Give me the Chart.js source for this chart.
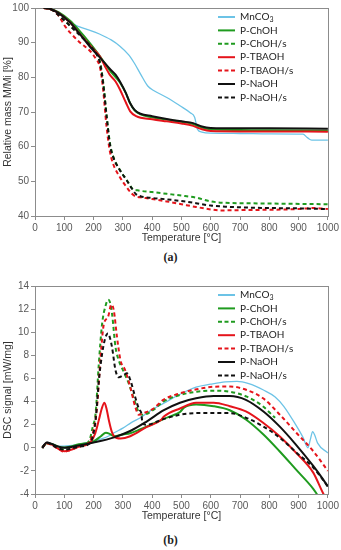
<!DOCTYPE html>
<html>
<head>
<meta charset="utf-8">
<script src="https://cdn.jsdelivr.net/npm/chart.js@4.4.1/dist/chart.umd.min.js"></script>
<style>
  html, body { margin: 0; padding: 0; background: #fff; }
  .panel { position: absolute; left: 0; width: 341px; }
  #boxA { top: 0; height: 250px; }
  #boxB { top: 275px; height: 253px; }
  .cap { position: absolute; left: 0; width: 341px; text-align: center; font: bold 12px "Liberation Serif", serif; color: #222; line-height: 14px; }
</style>
</head>
<body>
<div class="panel" id="boxA"><canvas id="tga"></canvas></div>
<div class="cap" style="top:250px">(a)</div>
<div class="panel" id="boxB"><canvas id="dsc"></canvas></div>
<div class="cap" style="top:533px">(b)</div>
<script>
// series names (same for both panels)
const seriesNames = ['MnCO₃', 'P-ChOH', 'P-ChOH/s', 'P-TBAOH', 'P-TBAOH/s', 'P-NaOH', 'P-NaOH/s'];
const tempTicks = [0, 100, 200, 300, 400, 500, 600, 700, 800, 900, 1000];

// (a) TGA, relative mass [%] vs temperature [°C]
const tgaMnCO3 = [[30,100],[60,99.7],[90,97.8],[120,95.8],[150,94.6],[190,93.5],[220,92.5],[260,90.8],[290,89],[320,86.5],[340,84],[360,81],[385,77.5],[405,76.2],[450,74.2],[495,71.8],[530,69.8],[545,68.5],[555,65],[570,64.2],[600,63.9],[700,63.8],[800,63.7],[915,63.6],[930,62.6],[945,61.9],[1000,61.9]];
const tgaChOH = [[30,100],[50,99.8],[80,98.8],[120,96.3],[150,93.6],[190,89.6],[220,86.3],[255,82],[290,78.5],[310,75.5],[325,72.5],[340,70.5],[360,69.3],[400,68.5],[450,67.8],[500,67.2],[540,66.5],[570,65.5],[600,65],[700,64.8],[800,64.7],[1000,64.6]];
const tgaChOHs = [[30,100],[50,99.8],[80,98],[120,94.9],[155,92.2],[190,89.2],[210,87],[222,84.5],[233,78.5],[245,68.5],[256,61],[267,57.2],[290,53.3],[313,50.4],[334,47.8],[350,47.4],[400,46.9],[450,46.4],[500,45.9],[550,45.3],[600,44.2],[650,43.8],[700,43.7],[800,43.6],[1000,43.4]];
const tgaTBAOH = [[30,100],[50,99.8],[80,98.6],[120,95.8],[150,92.8],[190,89],[222,86],[240,83],[255,80.8],[275,78.8],[290,76.5],[310,72.8],[325,70.2],[345,68.8],[400,67.9],[450,67.3],[500,66.7],[540,66],[570,65],[600,64.5],[700,64.4],[800,64.4],[1000,64.3]];
const tgaTBAOHs = [[30,100],[50,99.7],[70,98.8],[85,97.2],[102,94.8],[120,92.9],[154,90],[188,87.6],[205,85.7],[222,82.8],[232,77],[244,66],[256,58.5],[267,55],[290,51.2],[313,48.3],[330,46.5],[345,45.6],[360,45.4],[400,44.9],[450,44.2],[500,43.4],[550,42.6],[600,41.9],[630,41.6],[700,41.7],[800,41.8],[900,42],[950,42.3],[1000,42]];
const tgaNaOH = [[30,100],[50,99.8],[80,98.6],[120,95.8],[150,92.8],[190,88.6],[222,85.7],[256,82.4],[275,80.8],[290,78.8],[310,75.5],[325,72.5],[340,70.6],[360,69.5],[400,68.8],[450,68],[500,67.3],[540,66.8],[570,65.8],[600,65.4],[700,65.3],[800,65.3],[1000,65.2]];
const tgaNaOHs = [[30,100],[50,99.8],[80,98],[120,94.8],[155,92],[190,89],[210,86.7],[222,84],[233,78],[245,68.4],[256,60.5],[267,57],[290,53.2],[313,50.3],[330,48],[345,46.3],[360,45.7],[400,45.2],[450,44.8],[500,44.3],[550,43.7],[600,43],[650,42.7],[700,42.5],[800,42.3],[900,42.2],[1000,42]];

// (b) DSC signal [mW/mg] vs temperature [°C]
const dscMnCO3 = [[25,0],[40,0.45],[60,0.3],[80,0.15],[100,0.14],[150,0.3],[200,0.57],[250,1.0],[270,1.3],[300,1.7],[330,2.2],[360,2.6],[400,3.3],[440,3.86],[500,4.7],[550,5.25],[600,5.5],[650,5.7],[690,5.75],[730,5.55],[780,5.0],[820,4.4],[850,3.57],[890,2.0],[915,0.9],[932,0],[940,0.7],[948,1.4],[955,1.1],[965,0.4],[1000,-0.45]];
const dscChOH = [[25,0],[40,0.4],[60,0.3],[80,0.1],[100,0.02],[150,0.3],[200,0.55],[225,1.0],[242,1.3],[255,1.2],[270,1.0],[300,1.15],[325,1.25],[360,1.6],[405,2.1],[440,2.5],[480,2.9],[495,3.1],[510,3.5],[550,3.75],[610,3.6],[665,3.25],[720,2.45],[780,1.15],[835,-0.3],[890,-1.85],[950,-3.55],[965,-4.1],[1000,-5.3]];
const dscChOHs = [[25,0],[40,0.4],[60,0.25],[80,0],[100,-0.2],[150,0.1],[185,0.6],[197,1.8],[207,3.0],[218,7.3],[229,10.7],[241,12.3],[250,12.8],[256,12.6],[263,11.6],[275,8.7],[286,7.57],[303,6.57],[320,5.57],[337,4.29],[354,3.1],[368,2.85],[405,3.3],[438,4.0],[495,4.57],[552,4.85],[609,4.94],[666,4.85],[723,4.42],[779,3.57],[813,2.75],[820,2.6]];
const dscTBAOH = [[25,0],[40,0.42],[60,0.25],[80,-0.1],[100,-0.3],[120,-0.2],[150,0.1],[190,0.5],[205,1.2],[218,2.4],[228,3.4],[237,3.9],[245,3.3],[252,2.4],[262,1.4],[270,1.0],[292,0.8],[325,1.0],[382,1.8],[430,2.4],[440,2.7],[495,3.4],[550,3.9],[610,3.9],[665,3.6],[720,3.15],[780,2.15],[835,1.0],[890,-0.4],[950,-2.15],[985,-4.0],[1000,-4.6]];
const dscTBAOHs = [[25,0],[40,0.4],[60,0.2],[80,-0.1],[100,-0.35],[120,-0.2],[150,0.1],[185,0.5],[200,1.5],[212,3.57],[224,7.86],[235,10.7],[249,11.3],[261,12.4],[269,11.9],[280,9.57],[292,7.57],[308,6.71],[325,5.29],[342,3.57],[354,2.86],[371,3.0],[405,3.4],[438,4.14],[495,4.71],[552,5.06],[609,5.28],[666,5.3],[723,5.0],[779,4.28],[836,2.86],[893,1.28],[950,-0.29],[1000,-2.0]];
const dscNaOH = [[25,0],[40,0.45],[60,0.3],[80,0.1],[100,0],[150,0.2],[200,0.45],[270,0.9],[325,1.45],[380,2.25],[440,3.25],[495,3.9],[550,4.28],[610,4.48],[665,4.48],[720,4.15],[780,3.14],[835,1.85],[890,0.3],[950,-1.57],[980,-2.6],[1000,-3.35]];
const dscNaOHs = [[25,0],[40,0.45],[60,0.2],[80,-0.05],[100,-0.15],[150,0.1],[190,0.45],[200,1.3],[207,2.4],[218,5.8],[229,8.1],[240,9.5],[249,9.9],[256,9.5],[263,8.7],[275,6.7],[286,6.1],[303,6.3],[314,6.45],[325,5.9],[342,4.4],[356,3.3],[363,3.0],[367,2.1],[381,2.0],[438,2.48],[495,2.86],[552,3.0],[609,3.0],[666,3.0],[723,2.57],[779,1.85],[836,0.86],[893,-0.43],[950,-1.71],[984,-2.8],[1000,-3.35]];

const colors = ['#6cc3e6', '#1f9b1f', '#1f9b1f', '#e5141b', '#e5141b', '#111111', '#111111'];
const dashed = [false, false, true, false, true, false, true];
const tickFont = { family: 'Liberation Sans', size: 10 };
const titleFont = { family: 'Liberation Sans', size: 10.5 };

function makeDatasets(series) {
    return seriesNames.map((name, i) => ({
        label: name,
        data: series[i],
        borderColor: colors[i],
        borderWidth: i === 0 ? 1.3 : 2,
        borderDash: dashed[i] ? [4, 3] : [],
        pointRadius: 0,
        fill: false,
        cubicInterpolationMode: 'monotone',
        order: seriesNames.length - i
    }));
}

// frame around the plot area
const frame = {
    id: 'frame',
    beforeDatasetsDraw(chart) {
        const {ctx, chartArea: a} = chart;
        ctx.save();
        ctx.strokeStyle = '#8c8c8c';
        ctx.lineWidth = 1;
        ctx.strokeRect(Math.round(a.left) + 0.5, Math.round(a.top) + 0.5, Math.round(a.right - a.left), Math.round(a.bottom - a.top));
        ctx.restore();
    }
};

// legend drawn inside the plot, like the Excel one
const insideLegend = {
    id: 'insideLegend',
    afterDraw(chart) {
        const {ctx, chartArea} = chart;
        ctx.save();
        chart.data.datasets.forEach((ds, i) => {
            const y = chartArea.top + 9 + i * 13.4;
            ctx.strokeStyle = ds.borderColor;
            ctx.lineWidth = 2;
            ctx.setLineDash(ds.borderDash.length ? [4, 2.5] : []);
            ctx.beginPath();
            ctx.moveTo(218, y);
            ctx.lineTo(235, y);
            ctx.stroke();
            ctx.setLineDash([]);
            ctx.fillStyle = '#222';
            ctx.textBaseline = 'middle';
            let x = 240;
            for (const ch of ds.label) {
                const sub = ch >= '₀' && ch <= '₉';
                const c = sub ? String(ch.charCodeAt(0) - 0x2080) : ch;
                ctx.font = (sub ? '7px' : '10px') + ' Lato, sans-serif';
                ctx.fillText(c, x, sub ? y + 3 : y);
                x += ctx.measureText(c).width;
            }
        });
        ctx.restore();
    }
};

function makeChart(id, series, yMin, yMax, yStep, yTitle, topPad) {
    return new Chart(document.getElementById(id), {
        type: 'line',
        data: { datasets: makeDatasets(series) },
        options: {
            responsive: true,
            maintainAspectRatio: false,
            animation: false,
            layout: { padding: { top: topPad, right: 13, left: 0, bottom: 0 } },
            plugins: { legend: { display: false }, tooltip: { enabled: false } },
            scales: {
                x: {
                    type: 'linear',
                    min: 0,
                    max: 1000,
                    afterBuildTicks: scale => { scale.ticks = tempTicks.map(v => ({ value: v })); },
                    afterFit: scale => { scale.height = 34; },
                    ticks: { font: tickFont, color: '#595959', maxRotation: 0, autoSkip: false, padding: 2, callback: v => String(v) },
                    grid: { drawOnChartArea: false, tickLength: 4, color: '#8c8c8c' },
                    border: { color: '#8c8c8c' },
                    title: { display: true, text: 'Temperature [°C]', font: titleFont, color: '#333', padding: { top: 0, bottom: 6 } }
                },
                y: {
                    min: yMin,
                    max: yMax,
                    afterFit: scale => { scale.width = 35; },
                    ticks: { stepSize: yStep, font: tickFont, color: '#595959', padding: 2, callback: v => String(v) },
                    grid: { drawOnChartArea: false, tickLength: 4, color: '#8c8c8c' },
                    border: { color: '#8c8c8c' },
                    title: { display: true, text: yTitle, font: titleFont, color: '#333', padding: { top: 2, bottom: 0 } }
                }
            }
        },
        plugins: [frame, insideLegend]
    });
}

makeChart('tga', [tgaMnCO3, tgaChOH, tgaChOHs, tgaTBAOH, tgaTBAOHs, tgaNaOH, tgaNaOHs], 40, 100, 10, 'Relative mass M/Mi [%]', 7);
makeChart('dsc', [dscMnCO3, dscChOH, dscChOHs, dscTBAOH, dscTBAOHs, dscNaOH, dscNaOHs], -4, 14, 2, 'DSC signal [mW/mg]', 11);
</script>
</body>
</html>
